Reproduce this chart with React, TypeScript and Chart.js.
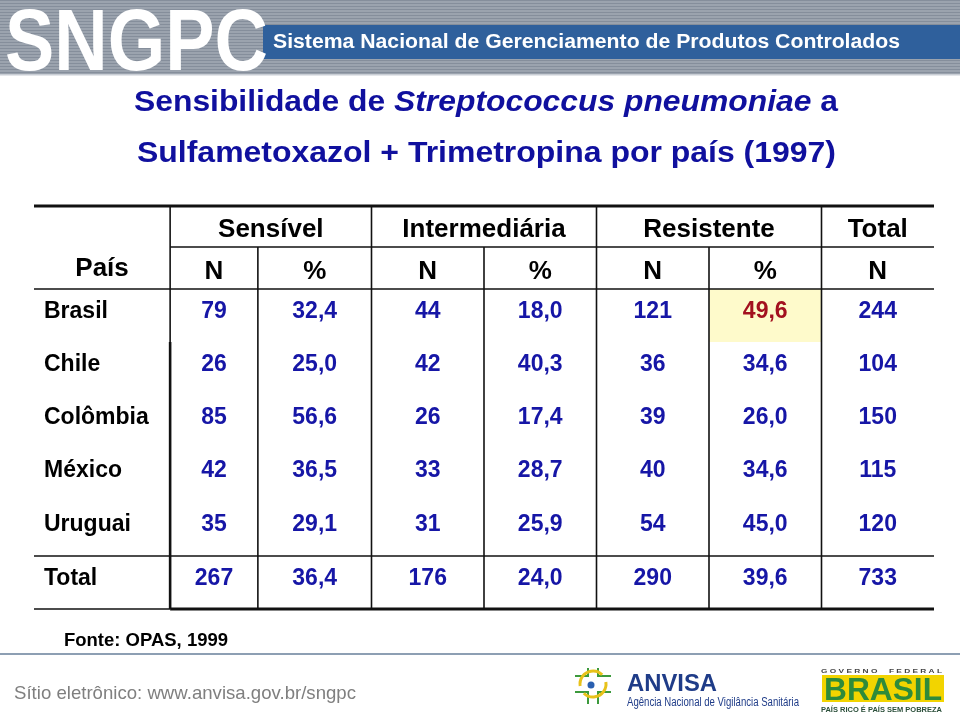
import React, { useEffect, useRef } from "react";
import { Chart, registerables } from "chart.js";

Chart.register(...registerables);

// ---------- data ----------
const COUNTRIES = ["Brasil", "Chile", "Colômbia", "México", "Uruguai"];
const SENSIVEL_N = [79, 26, 85, 42, 35];
const SENSIVEL_PCT = [32.4, 25.0, 56.6, 36.5, 29.1];
const INTERMEDIARIA_N = [44, 42, 26, 33, 31];
const INTERMEDIARIA_PCT = [18.0, 40.3, 17.4, 28.7, 25.9];
const RESISTENTE_N = [121, 36, 39, 40, 54];
const RESISTENTE_PCT = [49.6, 34.6, 26.0, 34.6, 45.0];
const TOTAL_N = [244, 104, 150, 115, 120];
const TOTAL_LABEL = "Total";
const TOTAL_ROW = [267, 36.4, 176, 24.0, 290, 39.6, 733];
const COUNTRY_HEADER = "País";
const GROUP_HEADERS = ["Sensível", "Intermediária", "Resistente", "Total"];
const SUB_HEADERS = ["N", "%", "N", "%", "N", "%", "N"];
const PCT_COLUMN = [false, true, false, true, false, true, false];

const BANNER_LOGO = "SNGPC";
const BANNER_TEXT = "Sistema Nacional de Gerenciamento de Produtos Controlados";
const TITLE_LINE1 = [
  { t: "Sensibilidade de ", italic: false },
  { t: "Streptococcus pneumoniae", italic: true },
  { t: " a", italic: false },
];
const TITLE_LINE2 = "Sulfametoxazol + Trimetropina por país (1997)";
const SOURCE = "Fonte: OPAS, 1999";
const SITE = "Sítio eletrônico: www.anvisa.gov.br/sngpc";
const ANVISA = "ANVISA";
const ANVISA_SUB = "Agência Nacional de Vigilância Sanitária";
const GOV = "G O V E R N O     F E D E R A L";
const BRASIL = "BRASIL";
const SLOGAN = "PAÍS RICO É PAÍS SEM POBREZA";

// ---------- layout (not data) ----------
const COL_EDGES = [0, 1.21, 1.99, 3, 4, 5, 6, 7, 8];
const ROW_HEIGHTS = [41, 42, 53, 53, 53, 54, 54, 53];
const HIGHLIGHT_ROW = 0;
const HIGHLIGHT_COL = 5;

const FONT = "'Liberation Sans', Arial, Helvetica, sans-serif";
const BLUE = "#1616a6";
const RED = "#a3101f";

function fmt(v: number, pct: boolean) {
  return pct ? v.toFixed(1).replace(".", ",") : String(v);
}

function fitText(
  ctx: CanvasRenderingContext2D,
  text: string,
  x: number,
  y: number,
  font: string,
  width: number,
  color: string
) {
  ctx.save();
  ctx.font = font;
  const w = ctx.measureText(text).width;
  ctx.translate(x, y);
  ctx.scale(width / w, 1);
  ctx.fillStyle = color;
  ctx.textAlign = "left";
  ctx.textBaseline = "alphabetic";
  ctx.fillText(text, 0, 0);
  ctx.restore();
}

function fitSegments(
  ctx: CanvasRenderingContext2D,
  segs: { t: string; italic: boolean }[],
  x: number,
  y: number,
  size: number,
  width: number,
  color: string
) {
  const fontOf = (it: boolean) => `${it ? "italic " : ""}bold ${size}px ${FONT}`;
  let total = 0;
  for (const s of segs) {
    ctx.font = fontOf(s.italic);
    total += ctx.measureText(s.t).width;
  }
  const sc = width / total;
  ctx.save();
  ctx.translate(x, y);
  ctx.scale(sc, 1);
  ctx.fillStyle = color;
  ctx.textBaseline = "alphabetic";
  ctx.textAlign = "left";
  let cx = 0;
  for (const s of segs) {
    ctx.font = fontOf(s.italic);
    ctx.fillText(s.t, cx, 0);
    cx += ctx.measureText(s.t).width;
  }
  ctx.restore();
}

function line(ctx: CanvasRenderingContext2D, x1: number, y1: number, x2: number, y2: number, w: number, c = "#111") {
  ctx.save();
  ctx.strokeStyle = c;
  ctx.lineWidth = w;
  ctx.beginPath();
  ctx.moveTo(x1, y1);
  ctx.lineTo(x2, y2);
  ctx.stroke();
  ctx.restore();
}

const tablePlugin = {
  id: "tablePlugin",
  beforeDraw(chart: any) {
    const ctx: CanvasRenderingContext2D = chart.ctx;
    const W = chart.width;
    const H = chart.height;
    ctx.save();
    ctx.fillStyle = "#ffffff";
    ctx.fillRect(0, 0, W, H);

    // banner stripes
    ctx.fillStyle = "#9ba3ae";
    ctx.fillRect(0, 0, W, 75);
    ctx.fillStyle = "#858e9b";
    for (let y = 0; y < 75; y += 3) ctx.fillRect(0, y, W, 1);
    ctx.fillStyle = "#c9ced5";
    ctx.fillRect(0, 74, W, 1.5);

    // blue band
    ctx.fillStyle = "#2f609c";
    ctx.fillRect(263, 25, W - 263, 34);
    fitText(ctx, BANNER_TEXT, 273, 48, `bold 20px ${FONT}`, 627, "#ffffff");

    // SNGPC logo letters
    fitText(ctx, BANNER_LOGO, 5, 70, `bold 87px ${FONT}`, 263, "#ffffff");

    // title
    fitSegments(ctx, TITLE_LINE1, 134, 111, 30, 704, "#10109e");
    fitSegments(ctx, [{ t: TITLE_LINE2, italic: false }], 137, 162, 30, 699, "#10109e");

    // highlight cell
    const xs = chart.scales.x;
    const ys = chart.scales.y;
    const cum = [0];
    ROW_HEIGHTS.forEach((h) => cum.push(cum[cum.length - 1] + h));
    const bodyTop = 2;
    const x1 = xs.getPixelForValue(COL_EDGES[HIGHLIGHT_COL + 1]);
    const x2 = xs.getPixelForValue(COL_EDGES[HIGHLIGHT_COL + 2]);
    const y1 = ys.getPixelForValue(cum[bodyTop + HIGHLIGHT_ROW]);
    const y2 = ys.getPixelForValue(cum[bodyTop + HIGHLIGHT_ROW + 1]);
    ctx.fillStyle = "#fefacb";
    ctx.fillRect(x1, y1, x2 - x1, y2 - y1);
    ctx.restore();
  },
  afterDraw(chart: any) {
    const ctx: CanvasRenderingContext2D = chart.ctx;
    const W = chart.width;
    const xs = chart.scales.x;
    const ys = chart.scales.y;
    const cum = [0];
    ROW_HEIGHTS.forEach((h) => cum.push(cum[cum.length - 1] + h));
    const X = (i: number) => xs.getPixelForValue(COL_EDGES[i]);
    const Y = (i: number) => ys.getPixelForValue(cum[i]);
    const XC = (a: number, b: number) => (X(a) + X(b)) / 2;

    // ---- grid lines ----
    const thin = 1.6;
    const thick = 3;
    line(ctx, X(0), Y(0), X(8), Y(0), thick);
    line(ctx, X(1), Y(1), X(8), Y(1), thin);
    line(ctx, X(0), Y(2), X(8), Y(2), thin);
    line(ctx, X(0), Y(7), X(8), Y(7), thin);
    line(ctx, X(0), Y(8), X(1), Y(8), thin);
    line(ctx, X(1), Y(8), X(8), Y(8), thick);
    // verticals
    line(ctx, X(1), Y(0), X(1), Y(3), thin);
    line(ctx, X(1), Y(3), X(1), Y(8), 2.6);
    const vStarts = [0, 1, 0, 1, 0, 1, 0];
    for (let c = 2; c <= 7; c++) {
      line(ctx, X(c), Y(vStarts[c - 1]), X(c), Y(8), thin);
    }

    ctx.save();
    ctx.textBaseline = "alphabetic";

    // ---- headers ----
    ctx.fillStyle = "#000";
    ctx.textAlign = "center";
    ctx.font = `bold 26px ${FONT}`;
    const groupSpans = [[1, 3], [3, 5], [5, 7], [7, 8]];
    GROUP_HEADERS.forEach((g, i) => {
      ctx.fillText(g, XC(groupSpans[i][0], groupSpans[i][1]), Y(0) + 30.5);
    });
    ctx.fillText(COUNTRY_HEADER, XC(0, 1), Y(1) + 29);
    SUB_HEADERS.forEach((s, i) => {
      ctx.fillText(s, XC(i + 1, i + 2), Y(1) + 32);
    });

    // ---- body ----
    const bodyRows = COUNTRIES.map((_, r) => [
      SENSIVEL_N[r],
      SENSIVEL_PCT[r],
      INTERMEDIARIA_N[r],
      INTERMEDIARIA_PCT[r],
      RESISTENTE_N[r],
      RESISTENTE_PCT[r],
      TOTAL_N[r],
    ]);
    const allRows = [...bodyRows, TOTAL_ROW];
    const labels = [...COUNTRIES, TOTAL_LABEL];
    ctx.font = `bold 23px ${FONT}`;
    allRows.forEach((vals, r) => {
      const base = Y(2 + r) + 29;
      ctx.textAlign = "left";
      ctx.fillStyle = "#000";
      ctx.fillText(labels[r], X(0) + 10, base);
      ctx.textAlign = "center";
      vals.forEach((v, c) => {
        ctx.fillStyle = r === HIGHLIGHT_ROW && c === HIGHLIGHT_COL ? RED : BLUE;
        ctx.fillText(fmt(v, PCT_COLUMN[c]), XC(c + 1, c + 2), base);
      });
    });
    ctx.restore();

    // ---- footer ----
    fitText(ctx, SOURCE, 64, 646, `bold 18px ${FONT}`, 164, "#000");
    line(ctx, 0, 654, W, 654, 2, "#8d9fb3");
    fitText(ctx, SITE, 14, 699, `19px ${FONT}`, 342, "#7f7f7f");

    // ANVISA logo
    ctx.save();
    ctx.strokeStyle = "#3c9a3c";
    ctx.lineWidth = 2;
    ctx.beginPath();
    ctx.moveTo(575, 676); ctx.lineTo(588, 676); ctx.lineTo(588, 668);
    ctx.moveTo(598, 668); ctx.lineTo(598, 676); ctx.lineTo(611, 676);
    ctx.moveTo(575, 692); ctx.lineTo(588, 692); ctx.lineTo(588, 704);
    ctx.moveTo(598, 704); ctx.lineTo(598, 692); ctx.lineTo(611, 692);
    ctx.stroke();
    ctx.strokeStyle = "#e8c21a";
    ctx.lineWidth = 3;
    ctx.beginPath();
    ctx.arc(593, 684, 13, Math.PI * 0.95, Math.PI * 1.75);
    ctx.stroke();
    ctx.beginPath();
    ctx.arc(593, 684, 13, Math.PI * 1.95, Math.PI * 0.75);
    ctx.stroke();
    ctx.fillStyle = "#2a5fb0";
    ctx.beginPath();
    ctx.arc(591, 685, 3.5, 0, Math.PI * 2);
    ctx.fill();
    ctx.restore();
    fitText(ctx, ANVISA, 627, 691, `bold 24px ${FONT}`, 90, "#1f3c88");
    fitText(ctx, ANVISA_SUB, 627, 706, `12px ${FONT}`, 172, "#1f3c88");

    // BRASIL logo
    fitText(ctx, GOV, 821, 673, `bold 6px ${FONT}`, 121, "#444");
    ctx.save();
    ctx.fillStyle = "#f2d400";
    ctx.fillRect(822, 675, 122, 27);
    ctx.restore();
    fitText(ctx, BRASIL, 824, 700, `900 32px ${FONT}`, 118, "#2e8b3a");
    fitText(ctx, SLOGAN, 821, 712, `bold 8px ${FONT}`, 121, "#2b4f3a");
  },
};

export default function App() {
  const ref = useRef<HTMLCanvasElement>(null);
  useEffect(() => {
    if (!ref.current) return;
    const chart = new Chart(ref.current, {
      type: "scatter",
      data: { datasets: [] },
      options: {
        animation: false,
        responsive: false,
        devicePixelRatio: 1,
        layout: { padding: { left: 34, right: 26, top: 206, bottom: 111 } },
        plugins: { legend: { display: false }, tooltip: { enabled: false }, title: { display: false } },
        scales: {
          x: { type: "linear", min: 0, max: 8, display: false },
          y: {
            type: "linear",
            min: 0,
            max: ROW_HEIGHTS.reduce((a, b) => a + b, 0),
            reverse: true,
            display: false,
          },
        },
      },
      plugins: [tablePlugin],
    } as any);
    return () => chart.destroy();
  }, []);
  return (
    <div style={{ position: "absolute", left: 0, top: 0, width: 960, height: 720, background: "#fff" }}>
      <canvas ref={ref} width={960} height={720} style={{ display: "block", width: 960, height: 720 }} />
    </div>
  );
}
